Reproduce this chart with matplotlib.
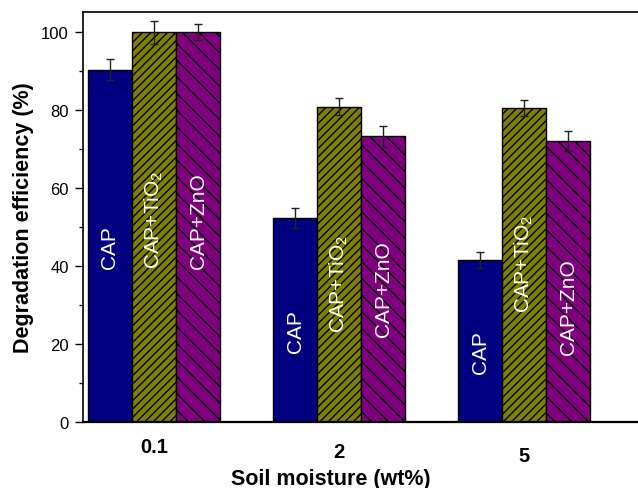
import matplotlib
matplotlib.use("Agg")
import matplotlib.pyplot as plt
import numpy as np

plt.rcParams["font.family"] = ["Liberation Sans", "DejaVu Sans"]
plt.rcParams["mathtext.fontset"] = "custom"
plt.rcParams["mathtext.rm"] = "Liberation Sans"
plt.rcParams["mathtext.it"] = "Liberation Sans:italic"
plt.rcParams["hatch.linewidth"] = 1.0

# data
moisture = ["0.1", "2", "5"]
series = ["CAP", "CAP+TiO$_2$", "CAP+ZnO"]
cap_vals = [90.4, 52.3, 41.5]
cap_err = [2.7, 2.6, 2.0]
tio2_vals = [99.9, 80.9, 80.5]
tio2_err = [3.0, 2.1, 2.0]
zno_vals = [100.0, 73.3, 72.1]
zno_err = [2.0, 2.7, 2.6]

# where the in-bar labels start (y value), per group
label_start = [[39.5, 39.5, 39.5], [18, 23, 22], [12.6, 28.2, 17.4]]

colors = ["#000080", "#808000", "#800080"]
hatches = [None, "////", "\\\\"]

fig = plt.figure(figsize=(6.38, 4.89), dpi=100)
ax = fig.add_axes([0.130, 0.135, 0.870, 0.838])

x = np.arange(len(moisture))
w = 0.238
vals = [cap_vals, tio2_vals, zno_vals]
errs = [cap_err, tio2_err, zno_err]

for i, (v, e) in enumerate(zip(vals, errs)):
    pos = x + (i - 1) * w
    ax.bar(pos, v, w, color=colors[i], edgecolor="black", linewidth=1.0,
           hatch=hatches[i], zorder=2)
    ax.errorbar(pos, v, yerr=e, fmt="none", ecolor="#222222", elinewidth=1.0,
                capsize=3, capthick=1.0, zorder=3)
    for g in range(len(moisture)):
        ax.text(pos[g], label_start[g][i], series[i], rotation=90,
                ha="center", va="bottom", color="white", fontsize=15, zorder=4)

ax.set_xlim(-0.384, 2.615)
ax.set_ylim(0, 105.1)
ax.set_yticks([0, 20, 40, 60, 80, 100])
ax.set_yticks([10, 30, 50, 70, 90], minor=True)
ax.set_xticks(x)
ax.set_xticklabels(moisture, fontsize=14.5, fontweight="bold")
ax.tick_params(axis="x", length=0)
for t, pad in zip(ax.xaxis.get_major_ticks(), [11, 14.5, 17.5]):
    t.set_pad(pad)
ax.tick_params(axis="y", which="major", direction="out", length=5.8,
               width=1.0, labelsize=12, pad=4.5)
ax.tick_params(axis="y", which="minor", direction="out", length=3,
               width=1.0)

ax.spines["right"].set_visible(False)
for s in ["left", "top"]:
    ax.spines[s].set_linewidth(1.2)
ax.spines["bottom"].set_linewidth(1.6)

ax.set_xlabel("Soil moisture (wt%)", fontsize=15.5, fontweight="bold")
ax.xaxis.set_label_coords(0.447, -0.112)
ax.set_ylabel("Degradation efficiency (%)", fontsize=15.5, fontweight="bold")
ax.yaxis.set_label_coords(-0.089, 0.5)

fig.savefig("out.png", dpi=100)
